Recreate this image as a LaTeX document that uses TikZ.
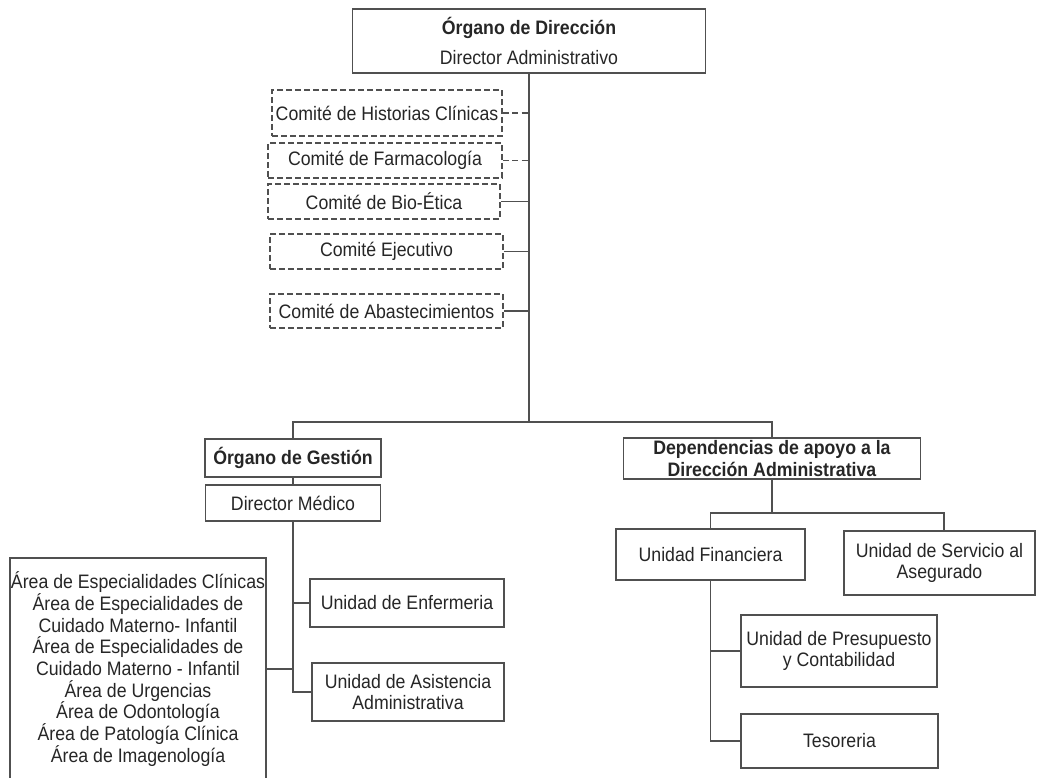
\documentclass[tikz,border=0pt]{standalone}
\usepackage{fontspec}
\setmainfont{Liberation Sans}[FakeStretch=0.91]
\usetikzlibrary{calc,positioning}

\definecolor{linegray}{HTML}{505050}
\definecolor{textgray}{HTML}{262626}

\tikzset{
	unit/.style={draw=linegray, line width=1.4pt, text=textgray, align=center,
		inner sep=0pt, font=\fontsize{19.5}{21.7}\selectfont},
	comite/.style={unit, dash pattern=on 6pt off 3pt, line width=1.9pt},
	link/.style={draw=linegray, line width=1.4pt},
	dlink/.style={link, dash pattern=on 6pt off 3.5pt, line width=1.9pt},
}

\begin{document}
\begin{tikzpicture}[x=0.352cm, y=-0.352cm]
		
		\useasboundingbox (0,0) rectangle (103.7,77.7);
		\fill[white] (0,0) rectangle (103.7,77.7);
		
		% top of the chart
		\node[unit, minimum width=354pt, minimum height=64pt] (dir) at (52.9,4.1)
			{\textbf{Órgano de Dirección}\\[8pt]Director Administrativo};
		
		% committees hanging from the main line
		\node[comite, minimum width=230pt, minimum height=46pt] (hist) at (38.7,11.3) {Comité de Historias Clínicas};
		\node[comite, minimum width=234pt, minimum height=35pt] (farm) at (38.5,16.05) {Comité de Farmacología};
		\node[comite, minimum width=232pt, minimum height=35pt] (bio) at (38.4,20.15) {Comité de Bio-Ética};
		\node[comite, minimum width=233pt, minimum height=35pt] (ejec) at (38.65,25.15) {Comité Ejecutivo};
		\node[comite, minimum width=233pt, minimum height=34pt] (abas) at (38.65,31.1) {Comité de Abastecimientos};
		
		% management side
		\node[unit, minimum width=176pt, minimum height=38pt] (gest) at (29.3,45.8) {\textbf{Órgano de Gestión}};
		\node[unit, minimum width=175pt, minimum height=36pt] (dmed) at (29.3,50.3) {Director Médico};
		\node[unit, minimum width=194pt, minimum height=48pt] (enf) at (40.7,60.3) {Unidad de Enfermeria};
		\node[unit, minimum width=192pt, minimum height=58pt] (asis) at (40.8,69.2) {Unidad de Asistencia\\Administrativa};
		\node[unit, minimum width=256pt, minimum height=222pt] (areas) at (13.8,66.9)
			{Área de Especialidades Clínicas\\
			 Área de Especialidades de\\
			 Cuidado Materno- Infantil\\
			 Área de Especialidades de\\
			 Cuidado Materno - Infantil\\
			 Área de Urgencias\\
			 Área de Odontología\\
			 Área de Patología Clínica\\
			 Área de Imagenología};
		
		% support side
		\node[unit, minimum width=298pt, minimum height=41pt] (dep) at (77.2,45.85)
			{\textbf{Dependencias de apoyo a la}\\\textbf{Dirección Administrativa}};
		\node[unit, minimum width=189pt, minimum height=51pt] (fin) at (71.05,55.45) {Unidad Financiera};
		\node[unit, minimum width=191pt, minimum height=64pt] (aseg) at (93.95,56.3) {Unidad de Servicio al\\Asegurado};
		\node[unit, minimum width=196pt, minimum height=72pt] (pres) at (83.9,65.1) {Unidad de Presupuesto\\y Contabilidad};
		\node[unit, minimum width=197pt, minimum height=54pt] (teso) at (83.95,74.1) {Tesoreria};
		
		% main line and the split bar
		\coordinate (bar) at (dir.south |- 0,42.2);
		\draw[link] (dir.south) -- (bar);
		\draw[link] (gest.north) -- (gest.north |- bar) -- (dep.north |- bar) -- (dep.north);
		
		\foreach \c in {hist,farm}
			\draw[dlink] (\c.east) -- (\c.east -| bar);
		\foreach \c in {bio,ejec,abas}
			\draw[link] (\c.east) -- (\c.east -| bar);
		
		% management branches
		\draw[link] (gest) -- (dmed);
		\draw[link] (dmed.south) |- (asis.west);
		\draw[link] (enf.west) -- (enf.west -| dmed.south);
		\draw[link] (areas.east) -- (areas.east -| dmed.south);
		
		% support branches
		\coordinate (split) at (dep.south |- 0,51.3);
		\coordinate (asegtop) at ($(aseg.north)+(0.45,0)$);
		\draw[link] (dep.south) -- (split);
		\draw[link] (fin.north) -- (fin.north |- split) -| (asegtop);
		\draw[link] (fin.south) |- (teso.west);
		\draw[link] (pres.west) -- (pres.west -| fin.south);
		
	\end{tikzpicture}
\end{document}
